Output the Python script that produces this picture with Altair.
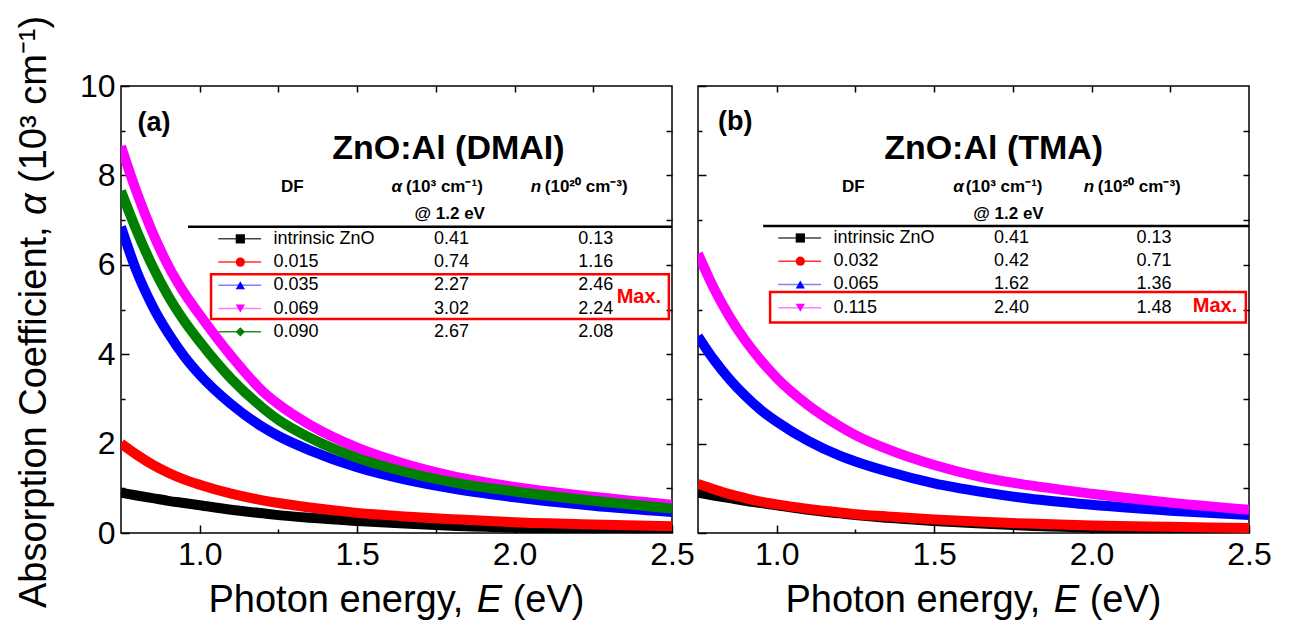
import altair as alt
import pandas as pd

FONT = "Liberation Sans"

# ---------------- data ----------------
E_GRID = [0.75, 0.80, 0.85, 0.90, 0.95, 1.00, 1.10, 1.20, 1.25, 1.35, 1.50, 1.65, 1.80, 2.00, 2.25, 2.50]

# panel (a) ZnO:Al (DMAI)
A_INTR = [0.90, 0.84, 0.78, 0.72, 0.67, 0.62, 0.52, 0.44, 0.40, 0.34, 0.27, 0.21, 0.16, 0.12, 0.08, 0.06]
A_015 = [2.00, 1.75, 1.53, 1.35, 1.20, 1.08, 0.88, 0.73, 0.67, 0.57, 0.45, 0.37, 0.31, 0.24, 0.19, 0.15]
A_035 = [6.85, 5.85, 5.08, 4.47, 3.96, 3.54, 2.88, 2.37, 2.17, 1.85, 1.47, 1.20, 1.00, 0.80, 0.61, 0.47]
A_069 = [8.65, 7.62, 6.73, 5.98, 5.38, 4.88, 3.96, 3.17, 2.88, 2.42, 1.91, 1.55, 1.28, 1.03, 0.81, 0.63]
A_090 = [7.65, 6.76, 5.97, 5.30, 4.75, 4.28, 3.45, 2.80, 2.53, 2.13, 1.68, 1.37, 1.14, 0.93, 0.72, 0.55]

# panel (b) ZnO:Al (TMA)
B_INTR = [0.90, 0.84, 0.78, 0.72, 0.67, 0.62, 0.52, 0.44, 0.40, 0.34, 0.27, 0.21, 0.16, 0.12, 0.08, 0.06]
B_032 = [1.10, 0.98, 0.87, 0.78, 0.70, 0.64, 0.54, 0.46, 0.42, 0.37, 0.30, 0.25, 0.21, 0.17, 0.14, 0.11]
B_065 = [4.40, 3.88, 3.44, 3.07, 2.75, 2.49, 2.06, 1.73, 1.60, 1.38, 1.11, 0.92, 0.77, 0.63, 0.50, 0.40]
B_115 = [6.25, 5.48, 4.84, 4.31, 3.86, 3.47, 2.86, 2.39, 2.19, 1.88, 1.52, 1.25, 1.07, 0.88, 0.68, 0.52]

# legend tables
DF_A = ["intrinsic ZnO", "0.015", "0.035", "0.069", "0.090"]
ALPHA_A = ["0.41", "0.74", "2.27", "3.02", "2.67"]
N_A = ["0.13", "1.16", "2.46", "2.24", "2.08"]

DF_B = ["intrinsic ZnO", "0.032", "0.065", "0.115"]
ALPHA_B = ["0.41", "0.42", "1.62", "2.40"]
N_B = ["0.13", "0.71", "1.36", "1.48"]

HEAD_DF = "DF"
HEAD_ALPHA_SYM = "α"
HEAD_ALPHA_UNIT = "(10³ cm⁻¹)"
HEAD_N_SYM = "n"
HEAD_N_UNIT = "(10²⁰ cm⁻³)"
HEAD_AT = "@ 1.2 eV"
MAX_TEXT = "Max."

# axis titles, split so the symbol can be italic
XT_PIECES = ["Photon energy,", "E", "(eV)"]
YT_PIECES = ["Absorption Coefficient,", "α", "(10³ cm⁻¹)"]

X_MAJOR = [1.0, 1.5, 2.0, 2.5]
X_MINOR = [1.25, 1.75, 2.25]
X_ALL = [1.0, 1.25, 1.5, 1.75, 2.0, 2.25]
Y_MAJOR = [0, 2, 4, 6, 8, 10]
Y_MINOR = [1, 3, 5, 7, 9]
Y_ALL = [1, 2, 3, 4, 5, 6, 7, 8, 9]

# ---------------- styles / layout ----------------
CURVE_COLORS = ["#000000", "#ff0000", "#0000ff", "#ff00ff", "#008000"]
LEG_LINE_COLORS = ["#444444", "#ff3030", "#7f7fff", "#ff80ff", "#2e8b2e"]
SHAPES = ["square", "circle", "triangle-up", "triangle-down", "diamond"]

XS = alt.Scale(domain=[0.75, 2.5], nice=False, zero=False)
YS = alt.Scale(domain=[0, 10], nice=False, zero=False)

LAY_A = dict(tag=(0.855, 9.17), title=(1.79, 8.59), df_x=1.294,
             asym_x=1.609, aunit_x=1.655, nsym_x=2.051, nunit_x=2.096,
             head_y=7.74, at_x=1.794, at_y=7.14, line_x=0.963, line_y=6.85, row_y0=6.58,
             row_dy=0.52, leg_x1=1.059, leg_x2=1.195, sym_x=1.129, lab_x=1.234, aval_x=1.80,
             nval_x=2.258, box=(1.036, 2.49, 5.79, 4.79), maxpos=(2.395, 5.28))
LAY_B = dict(tag=(0.868, 9.2), title=(1.689, 8.59), df_x=1.243,
             asym_x=1.561, aunit_x=1.600, nsym_x=1.975, nunit_x=2.020,
             head_y=7.74, at_x=1.736, at_y=7.14, line_x=0.957, line_y=6.87, row_y0=6.6,
             row_dy=0.52, leg_x1=1.005, leg_x2=1.141, sym_x=1.075, lab_x=1.18, aval_x=1.746,
             nval_x=2.198, box=(0.979, 2.49, 5.39, 4.71), maxpos=(2.392, 5.07))

W, H = 551, 447
TITLE_SIZE = 38
# x-title pieces: left anchors (px, relative to plot) and baseline
XT_X = [87.5, 355.8, 391.7]
XT_Y = 526
# y-title pieces: baseline x and bottom anchors (text runs upward)
YT_X = -75
YT_Y = [522, 129, 97]


def xy(xf="x", yf="y"):
    return dict(x=alt.X(f"{xf}:Q", scale=XS, axis=None), y=alt.Y(f"{yf}:Q", scale=YS, axis=None))


def text_layer(df, size, weight="normal", align="center", color="black", style="normal"):
    return alt.Chart(df).mark_text(font=FONT, fontSize=size, fontWeight=weight, align=align,
                                   baseline="middle", color=color, fontStyle=style).encode(
        text="t:N", **xy())


def title_piece(txt, px, py, style, angle=0):
    return alt.Chart(pd.DataFrame({"t": [txt]})).mark_text(
        font=FONT, fontSize=TITLE_SIZE, fontStyle=style, align="left", baseline="alphabetic",
        color="black", angle=angle).encode(text="t:N", x=alt.value(px), y=alt.value(py))


def panel(series, lay, df_labels, alpha_vals, n_vals, tag, title, y_labels):
    layers = []
    for i, vals in enumerate(series):
        d = pd.DataFrame({"E": E_GRID, "a": vals})
        if i == 0:
            xax = alt.Axis(orient="bottom", values=X_MAJOR, format=".1f", labelFontSize=32,
                           labelFont=FONT, labelColor="black", labelFlush=False, labelPadding=6,
                           tickSize=8, offset=-8, tickColor="black", tickWidth=1.5,
                           domain=False, grid=False, title=None)
            if y_labels:
                yax = alt.Axis(orient="left", values=Y_MAJOR, labelFontSize=32, labelFont=FONT,
                               labelColor="black", labelPadding=6, tickSize=8, offset=-8,
                               tickColor="black", tickWidth=1.5, domain=False, grid=False,
                               title=None)
            else:
                yax = alt.Axis(orient="left", values=Y_MAJOR, labels=False, tickSize=8, offset=-8,
                               tickColor="black", tickWidth=1.5, domain=False, grid=False,
                               title=None)
        else:
            xax = None
            yax = None
        layers.append(
            alt.Chart(d).mark_line(color=CURVE_COLORS[i], strokeWidth=10, clip=True,
                                   interpolate="monotone", strokeCap="butt").encode(
                x=alt.X("E:Q", scale=XS, axis=xax), y=alt.Y("a:Q", scale=YS, axis=yax))
        )

    dummy = pd.DataFrame({"E": [1.0], "a": [1.0]})
    # minor ticks bottom / left
    layers.append(alt.Chart(dummy).mark_point(opacity=0).encode(
        x=alt.X("E:Q", scale=XS, axis=alt.Axis(orient="bottom", values=X_MINOR, labels=False,
                                               tickSize=4, offset=-4, tickColor="black",
                                               tickWidth=1.5, domain=False, grid=False, title=None)),
        y=alt.Y("a:Q", scale=YS, axis=alt.Axis(orient="left", values=Y_MINOR, labels=False,
                                               tickSize=4, offset=-4, tickColor="black",
                                               tickWidth=1.5, domain=False, grid=False, title=None))))
    # mirrored ticks top / right
    layers.append(alt.Chart(dummy).mark_point(opacity=0).encode(
        x=alt.X("E:Q", scale=XS, axis=alt.Axis(orient="top", values=X_ALL, labels=False,
                                               tickSize=6, offset=-6, tickColor="black",
                                               tickWidth=1.5, domain=False, grid=False, title=None)),
        y=alt.Y("a:Q", scale=YS, axis=alt.Axis(orient="right", values=Y_ALL, labels=False,
                                               tickSize=6, offset=-6, tickColor="black",
                                               tickWidth=1.5, domain=False, grid=False, title=None))))

    # axis titles (with italic symbols)
    styles = ["normal", "italic", "normal"]
    for txt, px, st in zip(XT_PIECES, XT_X, styles):
        layers.append(title_piece(txt, px, XT_Y, st))
    if y_labels:
        for txt, py, st in zip(YT_PIECES, YT_Y, styles):
            layers.append(title_piece(txt, YT_X, py, st, angle=270))

    nrows = len(df_labels)
    rows_y = [lay["row_y0"] - k * lay["row_dy"] for k in range(nrows)]

    # panel tag and title
    layers.append(text_layer(pd.DataFrame({"x": [lay["tag"][0]], "y": [lay["tag"][1]], "t": [tag]}),
                             27, "bold"))
    layers.append(text_layer(pd.DataFrame({"x": [lay["title"][0]], "y": [lay["title"][1]], "t": [title]}),
                             34, "bold"))
    # headers
    layers.append(text_layer(pd.DataFrame({
        "x": [lay["df_x"], lay["at_x"]],
        "y": [lay["head_y"], lay["at_y"]],
        "t": [HEAD_DF, HEAD_AT]}), 17, "bold"))
    layers.append(text_layer(pd.DataFrame({
        "x": [lay["asym_x"], lay["nsym_x"]], "y": [lay["head_y"]] * 2,
        "t": [HEAD_ALPHA_SYM, HEAD_N_SYM]}), 17, "bold", align="left", style="italic"))
    layers.append(text_layer(pd.DataFrame({
        "x": [lay["aunit_x"], lay["nunit_x"]], "y": [lay["head_y"]] * 2,
        "t": [HEAD_ALPHA_UNIT, HEAD_N_UNIT]}), 17, "bold", align="left"))
    # header rule
    layers.append(alt.Chart(pd.DataFrame({"x": [lay["line_x"]], "x2": [2.5], "y": [lay["line_y"]]}))
                  .mark_rule(color="black", strokeWidth=2.5).encode(
        x=alt.X("x:Q", scale=XS, axis=None), x2="x2:Q", y=alt.Y("y:Q", scale=YS, axis=None)))
    # legend sample lines and symbols
    for k in range(nrows):
        seg = pd.DataFrame({"x": [lay["leg_x1"]], "x2": [lay["leg_x2"]], "y": [rows_y[k]]})
        layers.append(alt.Chart(seg).mark_rule(color=LEG_LINE_COLORS[k], strokeWidth=1.5).encode(
            x=alt.X("x:Q", scale=XS, axis=None), x2="x2:Q", y=alt.Y("y:Q", scale=YS, axis=None)))
        sym = pd.DataFrame({"x": [lay["sym_x"]], "y": [rows_y[k]]})
        layers.append(alt.Chart(sym).mark_point(shape=SHAPES[k], filled=True, size=85,
                                                color=CURVE_COLORS[k], opacity=1).encode(**xy()))
    # row texts
    layers.append(text_layer(pd.DataFrame({"x": [lay["lab_x"]] * nrows, "y": rows_y, "t": df_labels}),
                             18, align="left"))
    layers.append(text_layer(pd.DataFrame({"x": [lay["aval_x"]] * nrows, "y": rows_y, "t": alpha_vals}),
                             18))
    layers.append(text_layer(pd.DataFrame({"x": [lay["nval_x"]] * nrows, "y": rows_y, "t": n_vals}),
                             18))
    # red box and Max.
    bx = lay["box"]
    layers.append(alt.Chart(pd.DataFrame({"x": [bx[0]], "x2": [bx[1]], "y": [bx[2]], "y2": [bx[3]]}))
                  .mark_rect(fillOpacity=0, stroke="#ff0000", strokeWidth=2.5).encode(
        x=alt.X("x:Q", scale=XS, axis=None), x2="x2:Q",
        y=alt.Y("y:Q", scale=YS, axis=None), y2="y2:Q"))
    layers.append(text_layer(pd.DataFrame({"x": [lay["maxpos"][0]], "y": [lay["maxpos"][1]], "t": [MAX_TEXT]}),
                             20, "bold", color="#ff0000"))

    return alt.layer(*layers).resolve_scale(x="shared", y="shared").resolve_axis(
        x="independent", y="independent").properties(width=W, height=H)


pa = panel([A_INTR, A_015, A_035, A_069, A_090], LAY_A, DF_A, ALPHA_A, N_A, "(a)", "ZnO:Al (DMAI)", True)
pb = panel([B_INTR, B_032, B_065, B_115], LAY_B, DF_B, ALPHA_B, N_B, "(b)", "ZnO:Al (TMA)", False)

chart = alt.hconcat(pa, pb, spacing=26, bounds="flush").properties(
    padding={"left": 7, "top": 7, "right": 5, "bottom": 5}
).configure(font=FONT, view={"stroke": "black", "strokeWidth": 1.5})

chart.save("out.html", embed_options={"renderer": "svg", "actions": False})
